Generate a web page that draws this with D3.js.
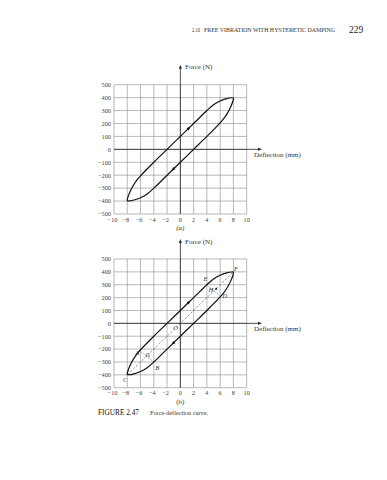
<!DOCTYPE html>
<html>
<head>
<meta charset="utf-8">
<script src="https://cdn.jsdelivr.net/npm/d3@7"></script>
<style>
body { margin: 0; background: #fff; }
svg { display: block; }
svg text { font-family: "Liberation Serif", "Times New Roman", serif; }
</style>
</head>
<body>
<svg width="387" height="480"></svg>
<script>
// tick values
var xTicks = [-10, -8, -6, -4, -2, 0, 2, 4, 6, 8, 10];
var yTicks = [-500, -400, -300, -200, -100, 0, 100, 200, 300, 400, 500];

// hysteresis loop, (deflection mm, force N)
var loopPoints = [
  [-6, -205], [-4, -100], [-2, 0], [0, 100], [2, 200], [4, 300],
  [5, 345], [6, 374], [7, 392], [7.7, 399], [8, 397],
  [7.9, 370], [7.6, 330], [7.1, 280], [6.5, 235], [6, 205],
  [4, 100], [2, 0], [0, -100], [-2, -200], [-4, -300],
  [-5, -345], [-6, -374], [-7, -392], [-7.7, -399], [-8, -397],
  [-7.9, -370], [-7.6, -330], [-7.1, -280], [-6.5, -235]
];

// direction arrows on the branches
var arrowMarks = [
  {x: 1.3, f: 165, dx: 1, df: 50},
  {x: -1.1, f: -155, dx: -1, df: -50}
];

// annotations for figure (b)
var diagonal = [[-8, -400], [8, 400]];
var chordAB = [[-6.2, -210], [-4, -300]];
var chordED = [[4, 300], [6.1, 208]];
var hDot = [5.4, 268];
var pointLabels = [
  {t: "O", x: -0.7, f: -35},
  {t: "A", x: -6.5, f: -225},
  {t: "B", x: -3.5, f: -345},
  {t: "C", x: -8.3, f: -440},
  {t: "D", x: 6.7, f: 220},
  {t: "E", x: 3.8, f: 350},
  {t: "F", x: 8.4, f: 425},
  {t: "G", x: -4.9, f: -240},
  {t: "H", x: 4.6, f: 260}
];

var svg = d3.select("svg");
svg.append("rect").attr("width", 387).attr("height", 480).attr("fill", "#fff");

// page header
svg.append("text").attr("x", 192).attr("y", 32).attr("font-size", 6)
  .attr("fill", "#333").attr("textLength", 8).attr("lengthAdjust", "spacingAndGlyphs")
  .text("2.10");
svg.append("text").attr("x", 204).attr("y", 32).attr("font-size", 6)
  .attr("fill", "#333").attr("textLength", 131).attr("lengthAdjust", "spacingAndGlyphs")
  .text("FREE VIBRATION WITH HYSTERETIC DAMPING");
svg.append("text").attr("x", 349).attr("y", 33).attr("font-size", 9.5)
  .attr("fill", "#222").text("229");

var x = d3.scaleLinear().domain([-10, 10]).range([114, 246.7]);

function drawChart(top, bottom, tag, annotate) {
  var y = d3.scaleLinear().domain([-500, 500]).range([bottom, top]);
  var g = svg.append("g");

  // grid
  g.selectAll(".vg").data(xTicks).enter().append("line")
    .attr("x1", function(d) { return x(d); }).attr("x2", function(d) { return x(d); })
    .attr("y1", y(-500)).attr("y2", y(500))
    .attr("stroke", "#8a8a8a").attr("stroke-width", 0.6);
  g.selectAll(".hg").data(yTicks).enter().append("line")
    .attr("x1", x(-10)).attr("x2", x(10))
    .attr("y1", function(d) { return y(d); }).attr("y2", function(d) { return y(d); })
    .attr("stroke", "#8a8a8a").attr("stroke-width", 0.6);

  // main axes with arrow heads
  g.append("line").attr("x1", x(0)).attr("x2", x(0))
    .attr("y1", y(-500)).attr("y2", top - 18)
    .attr("stroke", "#222").attr("stroke-width", 0.8);
  g.append("path").attr("d", "M" + x(0) + "," + (top - 20) + "l-1.5,4h3z").attr("fill", "#222");
  g.append("line").attr("x1", x(-10)).attr("x2", 260)
    .attr("y1", y(0)).attr("y2", y(0))
    .attr("stroke", "#222").attr("stroke-width", 0.8);
  g.append("path").attr("d", "M262," + y(0) + "l-4,-1.5v3z").attr("fill", "#222");

  g.append("text").attr("x", 185).attr("y", top - 15.5).attr("font-size", 7)
    .attr("fill", "#333").text("Force (N)");
  g.append("text").attr("x", 254).attr("y", y(0) + 7.5).attr("font-size", 7)
    .attr("fill", "#333").text("Deflection (mm)");

  // tick labels
  var fmt = d3.format("d");
  g.selectAll(".yl").data(yTicks).enter().append("text")
    .attr("x", 111).attr("y", function(d) { return y(d) + 2.3; })
    .attr("text-anchor", "end").attr("font-size", 6.3).attr("fill", "#444")
    .text(function(d) { return fmt(d); });
  g.selectAll(".xl").data(xTicks).enter().append("text")
    .attr("x", function(d) { return x(d) - (d < 0 ? 1.5 : 0); }).attr("y", bottom + 7.5)
    .attr("text-anchor", "middle").attr("font-size", 6.3).attr("fill", "#444")
    .text(function(d) { return fmt(d); });
  g.append("text").attr("x", x(0)).attr("y", bottom + 16)
    .attr("text-anchor", "middle").attr("font-size", 7).attr("fill", "#333")
    .attr("font-style", tag == "a" ? "italic" : "normal")
    .text("(" + tag + ")");

  if (annotate) {
    var straight = d3.line().x(function(d) { return x(d[0]); }).y(function(d) { return y(d[1]); });
    g.append("path").attr("d", straight(diagonal)).attr("fill", "none")
      .attr("stroke", "#555").attr("stroke-width", 0.6).attr("stroke-dasharray", "2.5,1.5");
    [chordAB, chordED].forEach(function(c) {
      g.append("path").attr("d", straight(c)).attr("fill", "none")
        .attr("stroke", "#555").attr("stroke-width", 0.6).attr("stroke-dasharray", "1.2,1");
    });
    g.append("circle").attr("cx", x(hDot[0])).attr("cy", y(hDot[1])).attr("r", 1.1).attr("fill", "#222");
    g.selectAll(".pl").data(pointLabels).enter().append("text")
      .attr("x", function(d) { return x(d.x); }).attr("y", function(d) { return y(d.f) + 2.5; })
      .attr("text-anchor", "middle").attr("font-size", 6.5).attr("font-style", "italic")
      .attr("fill", "#333").text(function(d) { return d.t; });
  }

  // loop
  var line = d3.line()
    .x(function(d) { return x(d[0]); })
    .y(function(d) { return y(d[1]); })
    .curve(d3.curveCatmullRomClosed.alpha(0.5));
  g.append("path").datum(loopPoints).attr("d", line)
    .attr("fill", "none").attr("stroke", "#111").attr("stroke-width", 1.2)
    .attr("stroke-linejoin", "round");

  // arrows
  arrowMarks.forEach(function(a) {
    var px = x(a.x), py = y(a.f);
    var ang = Math.atan2(y(a.f + a.df) - py, x(a.x + a.dx) - px) * 180 / Math.PI;
    g.append("path").attr("d", "M2.2,0L-1.8,-1.6L-1.8,1.6Z")
      .attr("transform", "translate(" + px + "," + py + ") rotate(" + ang + ")")
      .attr("fill", "#111");
  });
}

drawChart(84.7, 214, "a", false);
drawChart(259, 387.7, "b", true);

// caption
svg.append("text").attr("x", 98).attr("y", 415).attr("font-size", 8.5)
  .attr("fill", "#111").attr("textLength", 41).attr("lengthAdjust", "spacingAndGlyphs")
  .text("FIGURE 2.47");
svg.append("text").attr("x", 150).attr("y", 415).attr("font-size", 6.5)
  .attr("fill", "#333").attr("textLength", 58).attr("lengthAdjust", "spacingAndGlyphs")
  .text("Force-deflection curve.");
</script>
</body>
</html>
